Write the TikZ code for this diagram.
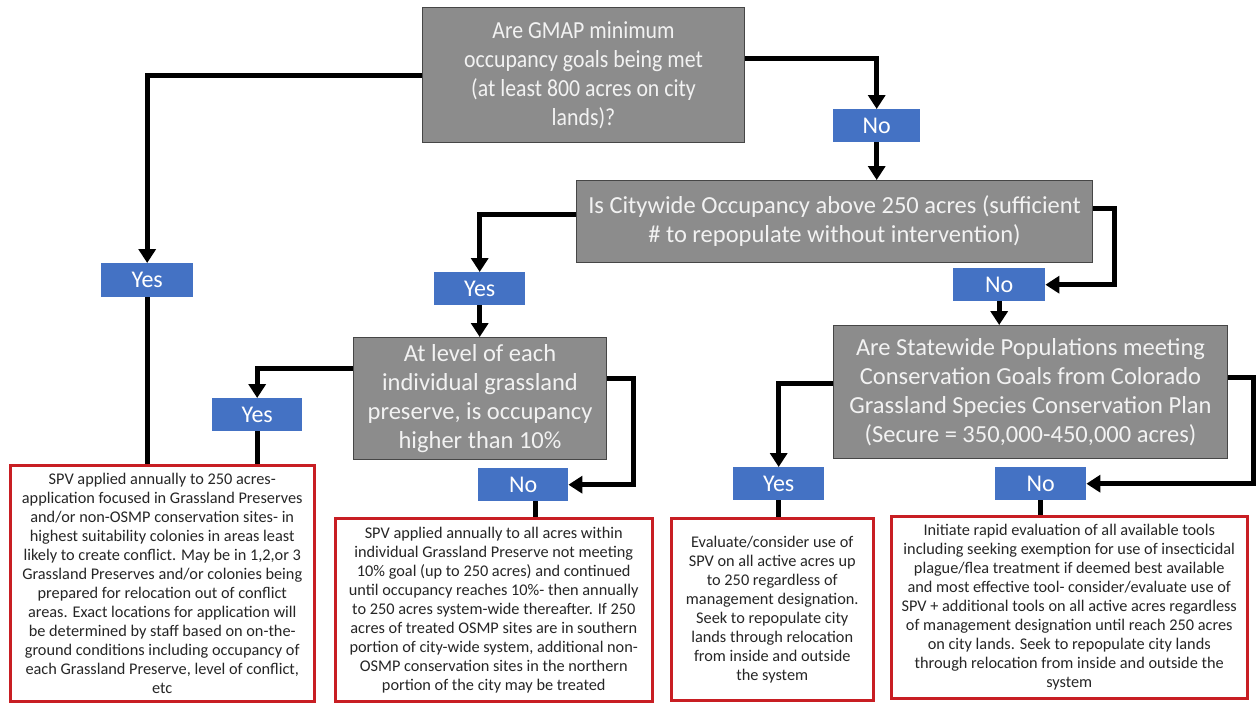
\documentclass[tikz,border=0pt]{standalone}
\usepackage{fontspec}
\setmainfont{Carlito}
\newfontfamily\narrowfont[FakeStretch=0.89]{Carlito}
\usetikzlibrary{arrows.meta}
\definecolor{qgray}{RGB}{140,140,140}
\definecolor{qborder}{RGB}{70,70,70}
\definecolor{qtext}{RGB}{242,242,242}
\definecolor{ansblue}{RGB}{68,114,196}
\definecolor{actred}{RGB}{200,30,35}
\definecolor{acttext}{RGB}{38,38,38}
\begin{document}
\begin{tikzpicture}[x=1pt,y=-1pt,
  question/.style={draw=qborder, line width=1pt, fill=qgray, text=qtext, align=center,
    anchor=north west, inner sep=2pt, font=\fontsize{24.5}{29}\selectfont},
  answer/.style={fill=ansblue, text=white, anchor=north west, inner sep=0pt,
    font=\fontsize{24}{26}\selectfont},
  action/.style={draw=actred, line width=2.5pt, fill=white, text=acttext, align=center,
    anchor=north west, inner sep=0pt, font=\fontsize{16.3}{19}\selectfont},
  flow/.style={line width=5pt, draw=black},
  arr/.style={flow, -{Triangle[length=14pt,width=17pt]}},
]
\path[use as bounding box, fill=white] (0,0) rectangle (1259,702);

% questions
\node[question, minimum width=322, minimum height=135, font=\narrowfont\fontsize{24.5}{29}\selectfont] (q1) at (422,7)
  {Are GMAP minimum\\occupancy goals being met\\(at least 800 acres on city\\lands)?};
\node[question, minimum width=516, minimum height=82] (q2) at (576,180)
  {Is Citywide Occupancy above 250 acres (sufficient\\\# to repopulate without intervention)};
\node[question, minimum width=253, minimum height=122] (q3) at (353,337)
  {At level of each\\individual grassland\\preserve, is occupancy\\higher than 10\%};
\node[question, minimum width=394, minimum height=133] (q4) at (833,325)
  {Are Statewide Populations meeting\\Conservation Goals from Colorado\\Grassland Species Conservation Plan\\(Secure = 350,000-450,000  acres)};

% answers
\node[answer, minimum width=92, minimum height=34] (y1) at (101,263) {Yes};
\node[answer, minimum width=87, minimum height=33] (n1) at (833,109) {No};
\node[answer, minimum width=91, minimum height=33] (y2) at (434,272) {Yes};
\node[answer, minimum width=92, minimum height=33] (n2) at (953,268) {No};
\node[answer, minimum width=90, minimum height=33] (y3) at (212,398) {Yes};
\node[answer, minimum width=90, minimum height=33] (n3) at (478,468) {No};
\node[answer, minimum width=91, minimum height=33] (y4) at (733,467) {Yes};
\node[answer, minimum width=91, minimum height=33] (n4) at (995,467) {No};

% actions
\node[action, minimum width=304, minimum height=236] (r1) at (9,464)
  {SPV applied annually to 250 acres-\\application focused in Grassland Preserves\\and/or non-OSMP  conservation sites- in\\highest suitability colonies in areas least\\likely to create conflict.  May be in 1,2,or 3\\Grassland Preserves and/or colonies being\\prepared for relocation out of conflict\\areas.  Exact locations for application will\\be determined by staff based on on-the-\\ground conditions including occupancy of\\each Grassland Preserve, level of conflict,\\etc};
\node[action, minimum width=317, minimum height=183] (r2) at (334,517)
  {SPV applied annually to all acres within\\individual Grassland Preserve not meeting\\10\% goal (up to 250 acres) and continued\\until occupancy reaches 10\%- then annually\\to 250 acres system-wide thereafter.  If 250\\acres of treated OSMP sites are in southern\\portion of city-wide system, additional non-\\OSMP conservation sites in the northern\\portion of the city may be treated};
\node[action, minimum width=202, minimum height=182] (r3) at (670,517)
  {Evaluate/consider use of\\SPV on all active acres up\\to 250 regardless of\\management designation.\\Seek to repopulate city\\lands through relocation\\from inside and outside\\the system};
\node[action, minimum width=356, minimum height=182] (r4) at (890,515)
  {Initiate rapid evaluation of all available tools\\including seeking exemption for use of insecticidal\\plague/flea treatment if deemed best available\\and most effective tool- consider/evaluate use of\\SPV + additional tools on all active acres regardless\\of management designation until reach 250 acres\\on city lands. Seek to repopulate city lands\\through relocation from inside and outside the\\system};

% connectors
\draw[arr] (q1.west) -| (y1.north);
\draw[flow] (y1.south) -- (y1.south |- r1.north);
\draw[arr] (q1.east |- 0,58) -| (n1.north);
\draw[arr] (n1.south) -- (n1.south |- q2.north);
\draw[arr] (q2.west |- 0,214) -| (y2.north);
\draw[arr] (y2.south) -- (y2.south |- q3.north);
\draw[arr] (q2.east |- 0,208) -- ++(21,0) |- (n2.east);
\draw[arr] (n2.south) -- (n2.south |- q4.north);
\draw[arr] (q3.west |- 0,368) -| (y3.north);
\draw[flow] (y3.south) -- (y3.south |- r1.north);
\draw[arr] (q3.east |- 0,378) -- ++(26,0) |- (n3.east);
\draw[flow] ([xshift=12pt]n3.south) -- ([xshift=12pt]n3.south |- r2.north);
\draw[arr] (q4.west |- 0,383) -| (y4.north);
\draw[flow] (y4.south) -- (y4.south |- r3.north);
\draw[arr] (q4.east |- 0,377) -- ++(25,0) |- (n4.east);
\draw[flow] (n4.south) -- (n4.south |- r4.north);
\end{tikzpicture}
\end{document}
